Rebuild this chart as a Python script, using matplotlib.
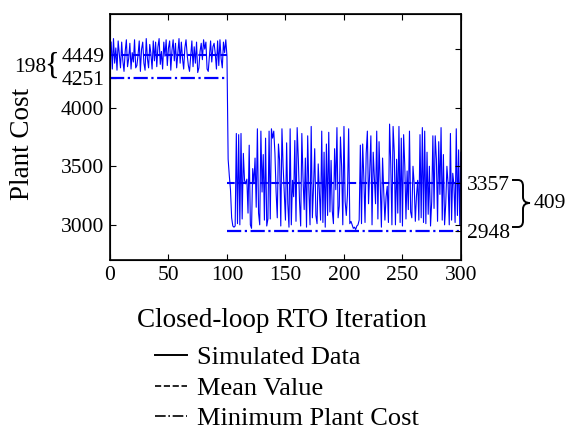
import matplotlib
matplotlib.use("Agg")
from matplotlib import pyplot as plt
from matplotlib.lines import Line2D
from matplotlib.path import Path
from matplotlib.patches import PathPatch

plt.rcParams['font.family'] = ['Liberation Serif', 'DejaVu Serif']

# plant cost before closed-loop RTO starts (iterations 1-100)
cost_before = [
    4560, 4330, 4590, 4380, 4510, 4320, 4570, 4450, 4340, 4560,
    4400, 4310, 4480, 4580, 4350, 4420, 4550, 4330, 4470, 4390,
    4580, 4340, 4360, 4450, 4570, 4310, 4500, 4560, 4380, 4320,
    4590, 4420, 4340, 4540, 4460, 4330, 4570, 4400, 4560, 4350,
    4520, 4590, 4370, 4480, 4330, 4560, 4440, 4580, 4360, 4510,
    4570, 4320, 4490, 4580, 4400, 4550, 4340, 4470, 4590, 4380,
    4560, 4420, 4330, 4510, 4580, 4450, 4360, 4310, 4440, 4570,
    4350, 4520, 4380, 4560, 4300, 4340, 4480, 4550, 4410, 4580,
    4500, 4560, 4330, 4310, 4440, 4570, 4390, 4520, 4550, 4460,
    4330, 4570, 4360, 4580, 4420, 4340, 4560, 4470, 4580, 4440,
]
# plant cost with closed-loop RTO (iterations 101-300)
cost_after = [
    3560, 3420, 3300, 3060, 2990, 2980, 2990, 3780, 3010, 3770, 3000, 3780, 3050, 3610, 3380, 3350, 3390, 3100, 3680, 3000,
    2970, 3480, 3350, 3570, 3150, 3820, 3100, 3000, 3800, 3280, 3600, 3040, 3740, 2990, 3050, 3800, 3050, 3820, 3740, 3800,
    3610, 3280, 3060, 3690, 3550, 2990, 3820, 3500, 3260, 3040, 3700, 3180, 2980, 3820, 3000, 3380, 3240, 3720, 3030, 3830,
    3560, 3200, 2990, 3780, 3400, 3130, 3570, 2980, 3760, 3300, 3000, 3840, 3060, 3330, 3650, 3080, 3010, 3520, 3270, 3040,
    3800, 3020, 3620, 2980, 3690, 3080, 3790, 3110, 3550, 3120, 3010, 3650, 3300, 3830, 3060, 3160, 3750, 3500, 3000, 3840,
    3200, 3080, 3260, 3820, 3010, 3030, 3000, 2970, 2980, 2960, 2990, 3000, 3040, 3680, 3010, 3690, 3400, 3020, 3610, 3800,
    3180, 3450, 3760, 3000, 3620, 3390, 3180, 3800, 3050, 3710, 3340, 2980, 3570, 3280, 3040, 3240, 3330, 3020, 3860, 3520,
    3000, 3840, 3620, 3000, 3560, 3100, 3840, 3020, 3740, 2990, 3770, 3500, 3050, 3460, 3130, 3800, 3110, 3060, 3500, 3350,
    3030, 3250, 3380, 3040, 3770, 3060, 3830, 3020, 3800, 3010, 3620, 3090, 3500, 2990, 3200, 3760, 3140, 3760, 3560, 3030,
    3710, 3260, 3830, 3040, 3600, 3000, 3180, 3500, 3350, 3000, 3780, 3040, 3440, 3340, 3020, 3820, 3080, 3640, 3000, 3620,
]
cost = cost_before + cost_after
iterations = list(range(1, len(cost) + 1))

mean_before, mean_after = 4449, 3357
min_before, min_after = 4251, 2948
switch_iter = 100

fig = plt.figure(figsize=(5.66, 4.29), dpi=100)
ax = fig.add_axes([0.1943, 0.394, 0.6201, 0.5734])

ax.plot(iterations, cost, color='#0000ff', lw=0.8)
ax.plot([0, switch_iter], [mean_before] * 2, color='#0000ff', ls='--', lw=1.5)
ax.plot([switch_iter, 300], [mean_after] * 2, color='#0000ff', ls='--', lw=1.5)
ax.plot([0, switch_iter], [min_before] * 2, color='#0000ff', ls='-.', lw=1.6)
ax.plot([switch_iter, 300], [min_after] * 2, color='#0000ff', ls='-.', lw=1.6)

ax.set_xlim(0, 300)
ax.set_ylim(2700, 4800)
ax.set_xticks([0, 50, 100, 150, 200, 250, 300])
ax.set_yticks([3000, 3500, 4000, min_before, mean_before])
ax.set_yticklabels(['3000', '3500', '4000', str(min_before), str(mean_before)])
ax.tick_params(axis='both', direction='in', length=4, labelsize=15.5, pad=4,
               top=True, right=False)
ax.set_xlabel('Closed-loop RTO Iteration', fontsize=19.5)
ax.set_ylabel('Plant Cost', fontsize=19.5)
ax.xaxis.set_label_coords(0.49, -0.195)
ax.yaxis.set_label_coords(-0.215, 0.47)
for s in ax.spines.values():
    s.set_linewidth(1.2)

# right axis: mean and minimum after RTO
ax2 = ax.twinx()
ax2.set_ylim(ax.get_ylim())
ax2.set_yticks([min_after, 3000, mean_after, 3500, 4000, 4500])
ax2.set_yticklabels([str(min_after), '', str(mean_after), '', '', ''])
ax2.tick_params(axis='y', direction='in', length=4, labelsize=15.5, pad=4)

# left brace: 198
fig.text(46 / 566, 1 - 67 / 429, str(mean_before - min_before), fontsize=15.5,
         ha='right', va='center')
fig.text(52 / 566, 1 - 66 / 429, '{', fontsize=22, ha='center', va='center')

# right brace: 409
pts = [(512, 180), (518, 180), (523, 180), (523, 186), (523, 197),
       (523, 203), (530, 203), (523, 203), (523, 209), (523, 221),
       (523, 227), (518, 227), (512, 227)]
codes = [Path.MOVETO, Path.LINETO, Path.CURVE3, Path.CURVE3, Path.LINETO,
         Path.CURVE3, Path.CURVE3, Path.CURVE3, Path.CURVE3, Path.LINETO,
         Path.CURVE3, Path.CURVE3, Path.LINETO]
brace = Path([(x / 566, 1 - y / 429) for x, y in pts], codes)
fig.add_artist(PathPatch(brace, transform=fig.transFigure, fill=False,
                         lw=1.4, color='black'))
fig.text(534 / 566, 1 - 203 / 429, str(mean_after - min_after), fontsize=15.5,
         ha='left', va='center')

handles = [Line2D([], [], color='black', ls='-', lw=1.4),
           Line2D([], [], color='black', ls='--', lw=1.2),
           Line2D([], [], color='black', ls='-.', lw=1.2)]
fig.legend(handles, ['Simulated Data', 'Mean Value', 'Minimum Plant Cost'],
           loc='upper left', bbox_to_anchor=(155 / 566, 1 - 346 / 429),
           frameon=False, fontsize=19, handlelength=1.2, handletextpad=0.4,
           labelspacing=0.26, borderpad=0, borderaxespad=0)

fig.savefig('out.png', dpi=100)
